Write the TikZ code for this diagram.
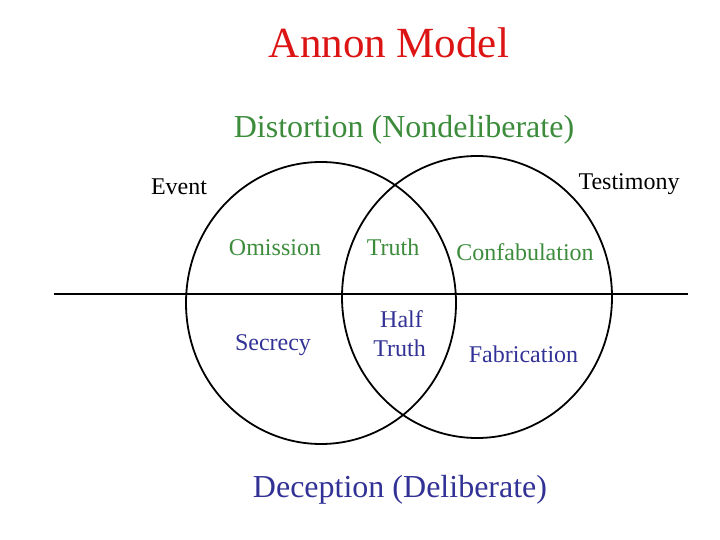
\documentclass[tikz,border=0pt]{standalone}
\usepackage{fontspec}
\setmainfont{Liberation Serif}
\usetikzlibrary{shapes.geometric}
\definecolor{titlered}{RGB}{220,20,20}
\definecolor{distgreen}{RGB}{60,140,60}
\definecolor{decblue}{RGB}{50,50,150}

\begin{document}
\begin{tikzpicture}[x = 1pt, y = -1pt,
  set/.style = {draw = black, shape = ellipse, line width = 1.8pt, minimum width = 270pt, minimum height = 282pt, inner sep = 0pt},
  lbl/.style = {anchor = base, inner sep = 0pt, font = \fontsize{24}{28}\selectfont},
  big/.style = {anchor = base, inner sep = 0pt, font = \fontsize{32}{36}\selectfont}]

\useasboundingbox (0, 0) rectangle (720, 540);

\node [set] (event) at (321, 303) {};
\node [set] (testimony) at (477, 297) {};

\coordinate (lineL) at (54, 294);
\coordinate (lineR) at (688, 294);
\path [draw, line width = 1.2pt] (lineL) -- (lineR);

\node [anchor = base, inner sep = 0pt, font = \fontsize{43}{48}\selectfont, text = titlered] (title) at (389, 58) {Annon Model};
\node [big, text = distgreen] (distortion) at (404, 137.5) {Distortion (Nondeliberate)};
\node [big, text = decblue] (deception) at (400, 497.5) {Deception (Deliberate)};

\node [lbl] (eventlbl) at (179, 194.3) {Event};
\node [lbl] (testimonylbl) at (629, 189.3) {Testimony};

\node [lbl, text = distgreen] (omission) at (275, 255) {Omission};
\node [lbl, text = distgreen] (truth) at (393, 255) {Truth};
\node [lbl, text = distgreen] (confab) at (525, 260.7) {Confabulation};

\node [lbl, text = decblue] (secrecy) at (273, 350.7) {Secrecy};
\node [lbl, text = decblue] (half) at (401.5, 327.3) {Half};
\node [lbl, text = decblue] (halftruth) at (399.5, 356) {Truth};
\node [lbl, text = decblue] (fabrication) at (523.5, 362.3) {Fabrication};
\end{tikzpicture}
\end{document}
